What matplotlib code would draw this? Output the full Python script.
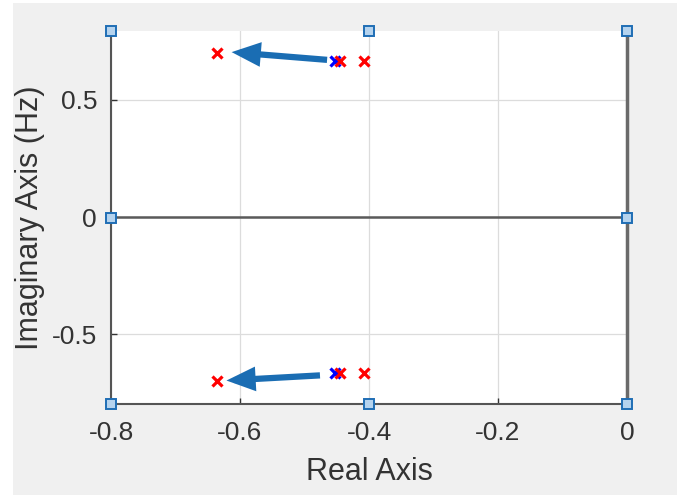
import matplotlib.pyplot as plt
from matplotlib import patches
import matplotlib.patheffects as pe

plt.rcParams['font.family'] = ['Liberation Sans', 'DejaVu Sans']

# pole locations (upper half, mirrored below)
red_re = [-0.636, -0.445, -0.408]
red_im = [0.698, 0.664, 0.664]
blue_re = [-0.453]
blue_im = [0.664]

# arrows: from the pole cluster out to the moved pole
arrow_tail = [(-0.465, 0.670), (-0.476, -0.675)]
arrow_head = [(-0.613, 0.703), (-0.621, -0.697)]

xticks = [-0.8, -0.6, -0.4, -0.2, 0]
xticklabels = ['-0.8', '-0.6', '-0.4', '-0.2', '0']
yticks = [-0.5, 0, 0.5]
yticklabels = ['-0.5', '0', '0.5']

fig = plt.figure(figsize=(6.77, 4.95), dpi=100, facecolor='#f0f0f0')
# thin white strip along the left and top edge of the screenshot
fig.patches.append(patches.Rectangle((0, 0), 13 / 677, 1, transform=fig.transFigure,
                                     facecolor='white', edgecolor='none', zorder=-10))
fig.patches.append(patches.Rectangle((0, 1 - 3 / 495), 1, 3 / 495, transform=fig.transFigure,
                                     facecolor='white', edgecolor='none', zorder=-10))

ax = fig.add_axes([111 / 677, 1 - 404 / 495, 516 / 677, 373 / 495])
ax.set_facecolor('white')
ax.set_xlim(-0.8, 0)
ax.set_ylim(-0.797, 0.793)

ax.grid(True, color='#dcdcdc', lw=0.9)
ax.set_axisbelow(True)
ax.axhline(0, color='#5a5a5a', lw=1.8, zorder=1)

ax.plot(blue_re, blue_im, 'x', color='#0000ff', ms=7, mew=2.3, zorder=3)
ax.plot(blue_re, [-v for v in blue_im], 'x', color='#0000ff', ms=7, mew=2.3, zorder=3)
ax.plot(red_re, red_im, 'x', color='#ff0000', ms=7, mew=2.3, zorder=4)
ax.plot(red_re, [-v for v in red_im], 'x', color='#ff0000', ms=7, mew=2.3, zorder=4)

for tail, head in zip(arrow_tail, arrow_head):
    ax.annotate('', xy=head, xytext=tail,
                arrowprops=dict(arrowstyle='-|>,head_length=1.3,head_width=0.55',
                                color='#1a6db3', lw=4.5, shrinkA=0, shrinkB=0,
                                joinstyle='miter', capstyle='butt',
                                path_effects=[pe.SimplePatchShadow(offset=(1.5, -2), alpha=0.25),
                                              pe.Normal()]),
                zorder=5)

ax.set_xticks(xticks)
ax.set_xticklabels(xticklabels)
ax.set_yticks(yticks)
ax.set_yticklabels(yticklabels)
ax.tick_params(direction='in', length=4, width=1, colors='#333333',
               labelsize=19, labelcolor='#333333')
ax.tick_params(axis='x', pad=12)
ax.tick_params(axis='y', pad=10)

ax.spines['top'].set_visible(False)
for side in ['left', 'bottom']:
    ax.spines[side].set_color('#555555')
    ax.spines[side].set_linewidth(1.5)
ax.spines['right'].set_color('#6a6a6a')
ax.spines['right'].set_linewidth(2.5)

ax.set_xlabel('Real Axis', fontsize=22, color='#333333', labelpad=9)
ax.set_ylabel('Imaginary Axis (Hz)', fontsize=22, color='#333333', labelpad=5)

# selection handles around the axes box
handles = [(0, 1), (0.5, 1), (1, 1), (0, 0.5), (1, 0.5), (0, 0), (0.5, 0), (1, 0)]
for hx, hy in handles:
    ax.plot(hx, hy, 's', transform=ax.transAxes, clip_on=False, ms=6.5,
            mfc='#b5d3ee', mec='#1f6eb5', mew=1.4, zorder=10)

fig.savefig('out.png', dpi=100, facecolor=fig.get_facecolor())
